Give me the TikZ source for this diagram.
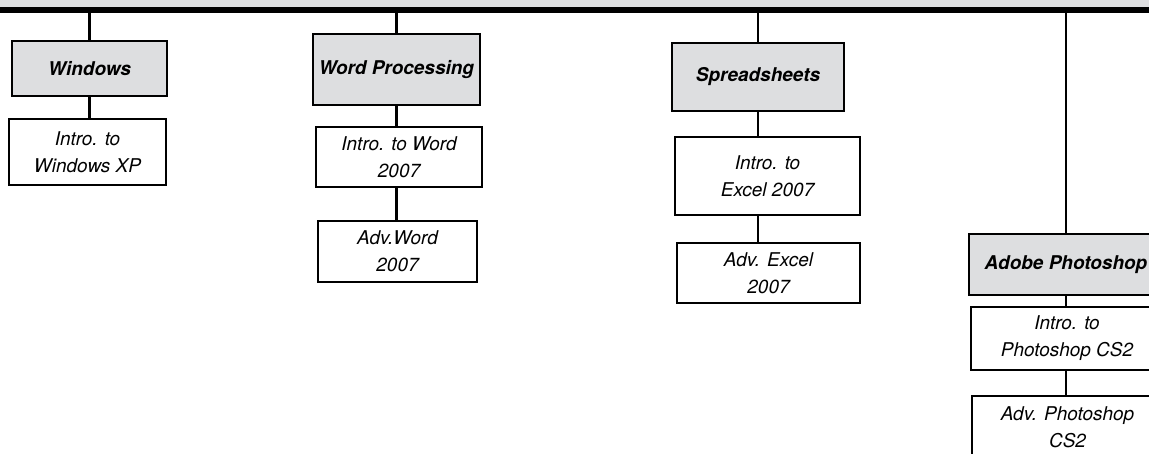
\documentclass[tikz,border=0pt]{standalone}
\usepackage{fontspec}
\setmainfont{TeX Gyre Heros}
\definecolor{boxgray}{RGB}{221, 222, 224}

\begin{document}
\begin{tikzpicture}[
    catbox/.style={draw, line width=1.5pt, fill=boxgray, inner sep=0pt, align=center, font=\bfseries\itshape\fontsize{10.8}{15.4}\selectfont},
    coursebox/.style={draw, line width=1.5pt, fill=white, inner sep=0pt, align=center, font=\itshape\fontsize{10.8}{15.4}\selectfont},
    link/.style={line width=1.4pt}
  ]
  \useasboundingbox (0, 0) rectangle (22.98, -9.06);
  \clip (0, 0) rectangle (22.98, -9.06);

  % Top bar
  \fill[boxgray] (0, 0) rectangle (22.98, -0.2);
  \draw[line width=3pt] (0, -0.2) -- (22.98, -0.2);
  \coordinate (bar) at (0, -0.2);

  % Windows
  \node[catbox, minimum width=3.10cm, minimum height=1.10cm] (win) at (1.79, -1.37) {Windows};
  \node[coursebox, minimum width=3.14cm, minimum height=1.32cm] (winxp) at (1.75, -3.04) {Intro. to\\Windows XP};

  % Word processing
  \node[catbox, minimum width=3.34cm, minimum height=1.42cm] (word) at (7.93, -1.39) {Word Processing};
  \node[coursebox, minimum width=3.32cm, minimum height=1.20cm] (wordintro) at (7.98, -3.14) {Intro. to Word\\2007};
  \node[coursebox, minimum width=3.18cm, minimum height=1.22cm] (wordadv) at (7.95, -5.03) {Adv.Word\\2007};

  % Spreadsheets
  \node[catbox, minimum width=3.44cm, minimum height=1.36cm] (excel) at (15.16, -1.54) {Spreadsheets};
  \node[coursebox, minimum width=3.70cm, minimum height=1.56cm] (excelintro) at (15.35, -3.52) {Intro. to\\Excel 2007};
  \node[coursebox, minimum width=3.66cm, minimum height=1.20cm] (exceladv) at (15.37, -5.46) {Adv. Excel\\2007};

  % Photoshop
  \node[catbox, minimum width=3.88cm, minimum height=1.22cm] (ps) at (21.32, -5.29) {Adobe Photoshop};
  \node[coursebox, minimum width=3.84cm, minimum height=1.26cm] (psintro) at (21.34, -6.77) {Intro. to\\Photoshop CS2};
  \node[coursebox, minimum width=3.82cm, minimum height=1.26cm] (psadv) at (21.35, -8.55) {Adv. Photoshop\\CS2};

  % Links
  \draw[link] (win.north |- bar) -- (win.north);
  \draw[link] (win.south) -- (win.south |- winxp.north);
  \draw[link] (word.north |- bar) -- (word.north);
  \draw[link] (word.south) -- (word.south |- wordintro.north);
  \draw[link] (word.south |- wordintro.south) -- (word.south |- wordadv.north);
  \draw[link] (excel.north |- bar) -- (excel.north);
  \draw[link] (excel.south) -- (excel.south |- excelintro.north);
  \draw[link] (excel.south |- excelintro.south) -- (excel.south |- exceladv.north);
  \draw[link] (ps.north |- bar) -- (ps.north);
  \draw[link] (ps.south) -- (ps.south |- psintro.north);
  \draw[link] (ps.south |- psintro.south) -- (ps.south |- psadv.north);
\end{tikzpicture}
\end{document}
